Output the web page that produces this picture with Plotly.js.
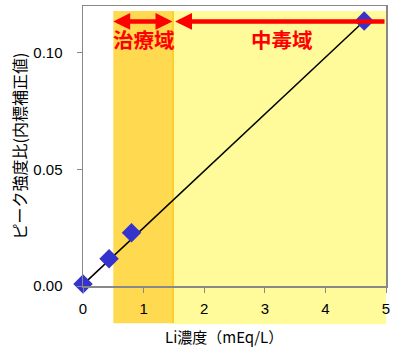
<!DOCTYPE html>
<html><head><meta charset="utf-8">
<script src="https://cdn.plot.ly/plotly-3.0.1.min.js"></script>
<style>html,body{margin:0;padding:0;background:#fff}#chart{width:400px;height:351px}</style>
</head><body><div id="chart"></div>
<script>
// measured points
const concX = [0, 0.43, 0.80, 4.64];
const ratioY = [0.0009, 0.0117, 0.0228, 0.1136];
// regression line endpoints
const fitX = [0, 4.64];
const fitY = [0.0006, 0.1136];
// ranges
const therapeuticRange = [0.5, 1.5];
const toxicRange = [1.5, 5.0];
const rangeLabels = ["治療域", "中毒域"];
const xTicks = [0, 1, 2, 3, 4, 5];
const yTicks = [0, 0.05, 0.10];
const yTickText = ["0.00", "0.05", "0.10"];

const arrowY = 0.1134;
const labelY = 0.1058;

const traces = [
  {x: fitX, y: fitY, mode: 'lines', line: {color: '#000', width: 1.5}, hoverinfo: 'skip', showlegend: false, cliponaxis: false},
  {x: concX, y: ratioY, mode: 'markers', marker: {symbol: 'diamond', size: 15, color: '#3434CC'}, showlegend: false, cliponaxis: false}
];

const layout = {
  width: 400, height: 351,
  margin: {l: 83, r: 14, t: 6, b: 65},
  paper_bgcolor: '#fff',
  plot_bgcolor: 'rgba(0,0,0,0)',
  font: {family: 'Liberation Sans, Arial, sans-serif', size: 15, color: '#000'},
  xaxis: {
    range: [0, 5], tickvals: xTicks, ticks: 'outside', ticklen: 5, tickcolor: '#888',
    showline: true, linecolor: '#888', linewidth: 1.5, mirror: true,
    showgrid: false, zeroline: false, ticklabelstandoff: 3
  },
  yaxis: {
    range: [0, 0.12], tickvals: yTicks, ticktext: yTickText, ticks: 'outside', ticklen: 5, tickcolor: '#888',
    showline: true, linecolor: '#888', linewidth: 1.5, mirror: true,
    showgrid: false, zeroline: false, ticklabelstandoff: 11,
    title: {text: 'ピーク強度比(内標補正値)', font: {family: 'Noto Sans CJK JP', size: 16}, standoff: 2}
  },
  shapes: [
    {type: 'rect', xref: 'x', yref: 'paper', x0: toxicRange[0], x1: toxicRange[1] + 0.03, y0: -0.137, y1: 0.982,
     fillcolor: '#FFFB9B', line: {width: 0}, layer: 'below'},
    {type: 'rect', xref: 'x', yref: 'paper', x0: therapeuticRange[0], x1: therapeuticRange[1], y0: -0.133, y1: 0.982,
     fillcolor: '#FFD94F', line: {width: 0}, layer: 'below'},
    {type: 'line', xref: 'x', yref: 'paper', x0: therapeuticRange[1] - 0.015, x1: therapeuticRange[1] - 0.015, y0: -0.133, y1: 0.982,
     line: {color: '#FFCF2E', width: 2}, layer: 'below'}
  ],
  annotations: [
    {xref: 'paper', yref: 'paper', x: 0.465, y: -0.18, text: 'Li濃度（mEq/L）', showarrow: false,
     font: {family: 'Noto Sans CJK JP', size: 15}, xanchor: 'center', yanchor: 'middle'},
    {x: therapeuticRange[0], y: arrowY, ax: therapeuticRange[1], ay: arrowY, axref: 'x', ayref: 'y', text: '',
     showarrow: true, arrowside: 'end+start', arrowhead: 2, startarrowhead: 2, arrowsize: 0.75, startarrowsize: 0.75,
     arrowwidth: 4.5, arrowcolor: '#FF0000', standoff: 0, startstandoff: 0},
    {x: toxicRange[0] + 0.02, y: arrowY, ax: toxicRange[1], ay: arrowY, axref: 'x', ayref: 'y', text: '',
     showarrow: true, arrowhead: 2, arrowsize: 0.75, arrowwidth: 4.5, arrowcolor: '#FF0000', standoff: 0},
    {x: (therapeuticRange[0] + therapeuticRange[1]) / 2, y: labelY, text: '<b>' + rangeLabels[0] + '</b>', showarrow: false,
     font: {family: 'Noto Sans CJK JP', size: 20.5, color: '#FF0000'}},
    {x: 3.28, y: labelY, text: '<b>' + rangeLabels[1] + '</b>', showarrow: false,
     font: {family: 'Noto Sans CJK JP', size: 20.5, color: '#FF0000'}}
  ]
};

Plotly.newPlot('chart', traces, layout, {displayModeBar: false, staticPlot: true});
</script>
</body></html>
